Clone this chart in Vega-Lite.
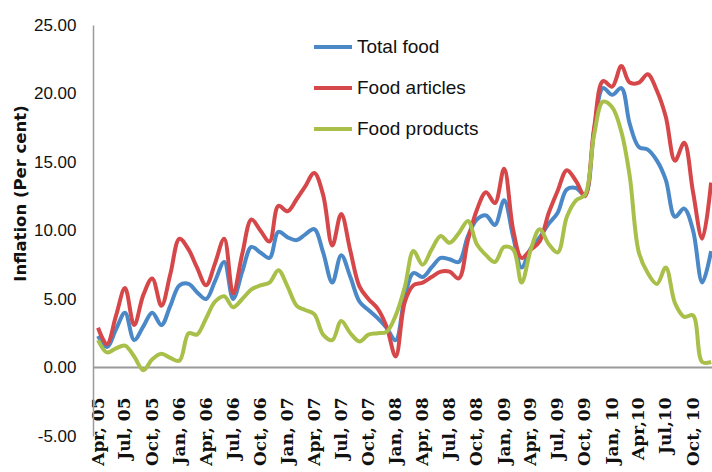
{
  "$schema": "https://vega.github.io/schema/vega-lite/v6.json",
  "width": 619,
  "height": 411,
  "autosize": "none",
  "padding": {"left": 93, "top": 25, "right": 0, "bottom": 36},
  "config": {"view": {"stroke": null}, "axis": {"grid": false}},
  "data": {"values": [
    {"m":"2005-04-01","s":"Total food","v":2.3},{"m":"2005-04-01","s":"Food articles","v":2.9},{"m":"2005-04-01","s":"Food products","v":2.0},
    {"m":"2005-05-01","s":"Total food","v":1.5},{"m":"2005-05-01","s":"Food articles","v":1.7},{"m":"2005-05-01","s":"Food products","v":1.1},
    {"m":"2005-06-01","s":"Total food","v":2.8},{"m":"2005-06-01","s":"Food articles","v":3.8},{"m":"2005-06-01","s":"Food products","v":1.4},
    {"m":"2005-07-01","s":"Total food","v":4.0},{"m":"2005-07-01","s":"Food articles","v":5.8},{"m":"2005-07-01","s":"Food products","v":1.6},
    {"m":"2005-08-01","s":"Total food","v":2.0},{"m":"2005-08-01","s":"Food articles","v":3.1},{"m":"2005-08-01","s":"Food products","v":0.8},
    {"m":"2005-09-01","s":"Total food","v":3.0},{"m":"2005-09-01","s":"Food articles","v":5.3},{"m":"2005-09-01","s":"Food products","v":-0.2},
    {"m":"2005-10-01","s":"Total food","v":4.0},{"m":"2005-10-01","s":"Food articles","v":6.5},{"m":"2005-10-01","s":"Food products","v":0.6},
    {"m":"2005-11-01","s":"Total food","v":3.1},{"m":"2005-11-01","s":"Food articles","v":4.5},{"m":"2005-11-01","s":"Food products","v":1.0},
    {"m":"2005-12-01","s":"Total food","v":4.5},{"m":"2005-12-01","s":"Food articles","v":6.8},{"m":"2005-12-01","s":"Food products","v":0.7},
    {"m":"2006-01-01","s":"Total food","v":6.0},{"m":"2006-01-01","s":"Food articles","v":9.4},{"m":"2006-01-01","s":"Food products","v":0.5},
    {"m":"2006-02-01","s":"Total food","v":6.1},{"m":"2006-02-01","s":"Food articles","v":8.6},{"m":"2006-02-01","s":"Food products","v":2.5},
    {"m":"2006-03-01","s":"Total food","v":5.5},{"m":"2006-03-01","s":"Food articles","v":7.3},{"m":"2006-03-01","s":"Food products","v":2.4},
    {"m":"2006-04-01","s":"Total food","v":5.0},{"m":"2006-04-01","s":"Food articles","v":6.0},{"m":"2006-04-01","s":"Food products","v":3.6},
    {"m":"2006-05-01","s":"Total food","v":6.3},{"m":"2006-05-01","s":"Food articles","v":7.6},{"m":"2006-05-01","s":"Food products","v":4.8},
    {"m":"2006-06-01","s":"Total food","v":7.7},{"m":"2006-06-01","s":"Food articles","v":9.4},{"m":"2006-06-01","s":"Food products","v":5.2},
    {"m":"2006-07-01","s":"Total food","v":5.0},{"m":"2006-07-01","s":"Food articles","v":5.4},{"m":"2006-07-01","s":"Food products","v":4.4},
    {"m":"2006-08-01","s":"Total food","v":7.0},{"m":"2006-08-01","s":"Food articles","v":8.3},{"m":"2006-08-01","s":"Food products","v":5.0},
    {"m":"2006-09-01","s":"Total food","v":8.8},{"m":"2006-09-01","s":"Food articles","v":10.8},{"m":"2006-09-01","s":"Food products","v":5.7},
    {"m":"2006-10-01","s":"Total food","v":8.4},{"m":"2006-10-01","s":"Food articles","v":10.0},{"m":"2006-10-01","s":"Food products","v":6.0},
    {"m":"2006-11-01","s":"Total food","v":8.0},{"m":"2006-11-01","s":"Food articles","v":9.2},{"m":"2006-11-01","s":"Food products","v":6.2},
    {"m":"2006-12-01","s":"Total food","v":9.9},{"m":"2006-12-01","s":"Food articles","v":11.8},{"m":"2006-12-01","s":"Food products","v":7.1},
    {"m":"2007-01-01","s":"Total food","v":9.5},{"m":"2007-01-01","s":"Food articles","v":11.4},{"m":"2007-01-01","s":"Food products","v":5.9},
    {"m":"2007-02-01","s":"Total food","v":9.3},{"m":"2007-02-01","s":"Food articles","v":12.3},{"m":"2007-02-01","s":"Food products","v":4.5},
    {"m":"2007-03-01","s":"Total food","v":9.7},{"m":"2007-03-01","s":"Food articles","v":13.2},{"m":"2007-03-01","s":"Food products","v":4.2},
    {"m":"2007-04-01","s":"Total food","v":10.1},{"m":"2007-04-01","s":"Food articles","v":14.2},{"m":"2007-04-01","s":"Food products","v":3.9},
    {"m":"2007-05-01","s":"Total food","v":8.4},{"m":"2007-05-01","s":"Food articles","v":12.6},{"m":"2007-05-01","s":"Food products","v":2.4},
    {"m":"2007-06-01","s":"Total food","v":6.2},{"m":"2007-06-01","s":"Food articles","v":8.9},{"m":"2007-06-01","s":"Food products","v":2.0},
    {"m":"2007-07-01","s":"Total food","v":8.2},{"m":"2007-07-01","s":"Food articles","v":11.2},{"m":"2007-07-01","s":"Food products","v":3.4},
    {"m":"2007-08-01","s":"Total food","v":6.6},{"m":"2007-08-01","s":"Food articles","v":8.5},{"m":"2007-08-01","s":"Food products","v":2.5},
    {"m":"2007-09-01","s":"Total food","v":4.8},{"m":"2007-09-01","s":"Food articles","v":5.9},{"m":"2007-09-01","s":"Food products","v":1.9},
    {"m":"2007-10-01","s":"Total food","v":4.2},{"m":"2007-10-01","s":"Food articles","v":5.0},{"m":"2007-10-01","s":"Food products","v":2.4},
    {"m":"2007-11-01","s":"Total food","v":3.6},{"m":"2007-11-01","s":"Food articles","v":4.3},{"m":"2007-11-01","s":"Food products","v":2.5},
    {"m":"2007-12-01","s":"Total food","v":2.9},{"m":"2007-12-01","s":"Food articles","v":3.0},{"m":"2007-12-01","s":"Food products","v":2.6},
    {"m":"2008-01-01","s":"Total food","v":2.0},{"m":"2008-01-01","s":"Food articles","v":0.8},{"m":"2008-01-01","s":"Food products","v":3.8},
    {"m":"2008-02-01","s":"Total food","v":5.2},{"m":"2008-02-01","s":"Food articles","v":4.8},{"m":"2008-02-01","s":"Food products","v":5.9},
    {"m":"2008-03-01","s":"Total food","v":6.9},{"m":"2008-03-01","s":"Food articles","v":6.0},{"m":"2008-03-01","s":"Food products","v":8.5},
    {"m":"2008-04-01","s":"Total food","v":6.6},{"m":"2008-04-01","s":"Food articles","v":6.2},{"m":"2008-04-01","s":"Food products","v":7.5},
    {"m":"2008-05-01","s":"Total food","v":7.3},{"m":"2008-05-01","s":"Food articles","v":6.6},{"m":"2008-05-01","s":"Food products","v":8.6},
    {"m":"2008-06-01","s":"Total food","v":8.0},{"m":"2008-06-01","s":"Food articles","v":7.0},{"m":"2008-06-01","s":"Food products","v":9.6},
    {"m":"2008-07-01","s":"Total food","v":7.9},{"m":"2008-07-01","s":"Food articles","v":7.0},{"m":"2008-07-01","s":"Food products","v":9.1},
    {"m":"2008-08-01","s":"Total food","v":7.7},{"m":"2008-08-01","s":"Food articles","v":6.5},{"m":"2008-08-01","s":"Food products","v":9.8},
    {"m":"2008-09-01","s":"Total food","v":9.6},{"m":"2008-09-01","s":"Food articles","v":9.3},{"m":"2008-09-01","s":"Food products","v":10.7},
    {"m":"2008-10-01","s":"Total food","v":10.8},{"m":"2008-10-01","s":"Food articles","v":11.5},{"m":"2008-10-01","s":"Food products","v":9.0},
    {"m":"2008-11-01","s":"Total food","v":11.1},{"m":"2008-11-01","s":"Food articles","v":12.8},{"m":"2008-11-01","s":"Food products","v":8.2},
    {"m":"2008-12-01","s":"Total food","v":10.4},{"m":"2008-12-01","s":"Food articles","v":12.0},{"m":"2008-12-01","s":"Food products","v":7.7},
    {"m":"2009-01-01","s":"Total food","v":12.2},{"m":"2009-01-01","s":"Food articles","v":14.5},{"m":"2009-01-01","s":"Food products","v":8.8},
    {"m":"2009-02-01","s":"Total food","v":9.5},{"m":"2009-02-01","s":"Food articles","v":10.0},{"m":"2009-02-01","s":"Food products","v":8.6},
    {"m":"2009-03-01","s":"Total food","v":7.3},{"m":"2009-03-01","s":"Food articles","v":8.0},{"m":"2009-03-01","s":"Food products","v":6.2},
    {"m":"2009-04-01","s":"Total food","v":8.7},{"m":"2009-04-01","s":"Food articles","v":8.6},{"m":"2009-04-01","s":"Food products","v":8.6},
    {"m":"2009-05-01","s":"Total food","v":9.5},{"m":"2009-05-01","s":"Food articles","v":9.2},{"m":"2009-05-01","s":"Food products","v":10.1},
    {"m":"2009-06-01","s":"Total food","v":10.5},{"m":"2009-06-01","s":"Food articles","v":11.3},{"m":"2009-06-01","s":"Food products","v":9.0},
    {"m":"2009-07-01","s":"Total food","v":11.3},{"m":"2009-07-01","s":"Food articles","v":12.9},{"m":"2009-07-01","s":"Food products","v":8.4},
    {"m":"2009-08-01","s":"Total food","v":13.0},{"m":"2009-08-01","s":"Food articles","v":14.4},{"m":"2009-08-01","s":"Food products","v":11.0},
    {"m":"2009-09-01","s":"Total food","v":13.1},{"m":"2009-09-01","s":"Food articles","v":13.6},{"m":"2009-09-01","s":"Food products","v":12.2},
    {"m":"2009-10-01","s":"Total food","v":12.6},{"m":"2009-10-01","s":"Food articles","v":12.5},{"m":"2009-10-01","s":"Food products","v":12.6},
    {"m":"2009-11-01","s":"Total food","v":17.3},{"m":"2009-11-01","s":"Food articles","v":17.5},{"m":"2009-11-01","s":"Food products","v":17.0},
    {"m":"2009-12-01","s":"Total food","v":20.4},{"m":"2009-12-01","s":"Food articles","v":20.9},{"m":"2009-12-01","s":"Food products","v":19.4},
    {"m":"2010-01-01","s":"Total food","v":19.9},{"m":"2010-01-01","s":"Food articles","v":20.5},{"m":"2010-01-01","s":"Food products","v":19.0},
    {"m":"2010-02-01","s":"Total food","v":20.4},{"m":"2010-02-01","s":"Food articles","v":22.0},{"m":"2010-02-01","s":"Food products","v":17.2},
    {"m":"2010-03-01","s":"Total food","v":17.8},{"m":"2010-03-01","s":"Food articles","v":20.8},{"m":"2010-03-01","s":"Food products","v":14.0},
    {"m":"2010-04-01","s":"Total food","v":16.1},{"m":"2010-04-01","s":"Food articles","v":20.8},{"m":"2010-04-01","s":"Food products","v":8.4},
    {"m":"2010-05-01","s":"Total food","v":15.9},{"m":"2010-05-01","s":"Food articles","v":21.4},{"m":"2010-05-01","s":"Food products","v":6.9},
    {"m":"2010-06-01","s":"Total food","v":15.1},{"m":"2010-06-01","s":"Food articles","v":20.2},{"m":"2010-06-01","s":"Food products","v":6.1},
    {"m":"2010-07-01","s":"Total food","v":13.7},{"m":"2010-07-01","s":"Food articles","v":18.3},{"m":"2010-07-01","s":"Food products","v":7.3},
    {"m":"2010-08-01","s":"Total food","v":11.0},{"m":"2010-08-01","s":"Food articles","v":15.1},{"m":"2010-08-01","s":"Food products","v":4.7},
    {"m":"2010-09-01","s":"Total food","v":11.6},{"m":"2010-09-01","s":"Food articles","v":16.4},{"m":"2010-09-01","s":"Food products","v":3.7},
    {"m":"2010-10-01","s":"Total food","v":10.0},{"m":"2010-10-01","s":"Food articles","v":12.8},{"m":"2010-10-01","s":"Food products","v":3.8},
    {"m":"2010-11-01","s":"Total food","v":6.2},{"m":"2010-11-01","s":"Food articles","v":9.4},{"m":"2010-11-01","s":"Food products","v":0.4},
    {"m":"2010-12-01","s":"Total food","v":8.5},{"m":"2010-12-01","s":"Food articles","v":13.5},{"m":"2010-12-01","s":"Food products","v":0.4}
  ]},
  "mark": {"type": "line", "strokeWidth": 4, "interpolate": "catmull-rom", "clip": true},
  "encoding": {
    "x": {
      "field": "m", "type": "temporal",
      "scale": {"type": "utc", "domain": [{"year": 2005, "month": 3, "date": 15, "utc": true}, {"year": 2010, "month": 12, "date": 4, "utc": true}]},
      "axis": {
        "title": null, "offset": -69, "ticks": false, "grid": false,
        "domainColor": "#9a9a9a", "domainWidth": 2,
        "labelAngle": 270, "labelPadding": 30, "labelOverlap": false, "labelBound": false, "labelFlush": false,
        "labelFont": "DejaVu Serif", "labelFontWeight": "bold", "labelFontSize": 17, "labelColor": "#111",
        "values": [
          {"year":2005,"month":4,"date":1,"utc":true},{"year":2005,"month":7,"date":1,"utc":true},{"year":2005,"month":10,"date":1,"utc":true},
          {"year":2006,"month":1,"date":1,"utc":true},{"year":2006,"month":4,"date":1,"utc":true},{"year":2006,"month":7,"date":1,"utc":true},{"year":2006,"month":10,"date":1,"utc":true},
          {"year":2007,"month":1,"date":1,"utc":true},{"year":2007,"month":4,"date":1,"utc":true},{"year":2007,"month":7,"date":1,"utc":true},{"year":2007,"month":10,"date":1,"utc":true},
          {"year":2008,"month":1,"date":1,"utc":true},{"year":2008,"month":4,"date":1,"utc":true},{"year":2008,"month":7,"date":1,"utc":true},{"year":2008,"month":10,"date":1,"utc":true},
          {"year":2009,"month":1,"date":1,"utc":true},{"year":2009,"month":4,"date":1,"utc":true},{"year":2009,"month":7,"date":1,"utc":true},{"year":2009,"month":10,"date":1,"utc":true},
          {"year":2010,"month":1,"date":1,"utc":true},{"year":2010,"month":4,"date":1,"utc":true},{"year":2010,"month":7,"date":1,"utc":true},{"year":2010,"month":10,"date":1,"utc":true}
        ],
        "labelExpr": "utcyear(datum.value) == 2010 && (utcmonth(datum.value) == 3 || utcmonth(datum.value) == 6) ? utcFormat(datum.value, '%b,%y') : utcFormat(datum.value, '%b, %y')"
      }
    },
    "y": {
      "field": "v", "type": "quantitative",
      "scale": {"domain": [-5, 25], "nice": false, "zero": false},
      "axis": {
        "title": "Inflation (Per cent)", "values": [-5, 0, 5, 10, 15, 20, 25],
        "labelExpr": "datum.value < 0 ? '-' + format(-datum.value, '.2f') : format(datum.value, '.2f')",
        "ticks": false, "grid": false, "domainColor": "#9a9a9a", "domainWidth": 1.5,
        "labelPadding": 17, "labelFont": "Liberation Sans", "labelFontSize": 17, "labelColor": "#111",
        "titleFont": "DejaVu Sans", "titleFontWeight": "bold", "titleFontSize": 16.5, "titleColor": "#111",
        "titleX": -73, "titleY": 168, "titleAngle": 270, "titleAlign": "center", "titleBaseline": "middle"
      }
    },
    "color": {
      "field": "s", "type": "nominal",
      "scale": {"domain": ["Total food", "Food articles", "Food products"], "range": ["#4A88C8", "#D6474A", "#A8C04A"]},
      "legend": {
        "title": null, "orient": "none", "legendX": 219, "legendY": 1,
        "symbolType": "stroke", "symbolSize": 1444, "symbolStrokeWidth": 4,
        "labelFont": "Liberation Sans", "labelFontSize": 19, "labelColor": "#111",
        "labelOffset": 3, "rowPadding": 10, "labelLimit": 300
      }
    }
  }
}
